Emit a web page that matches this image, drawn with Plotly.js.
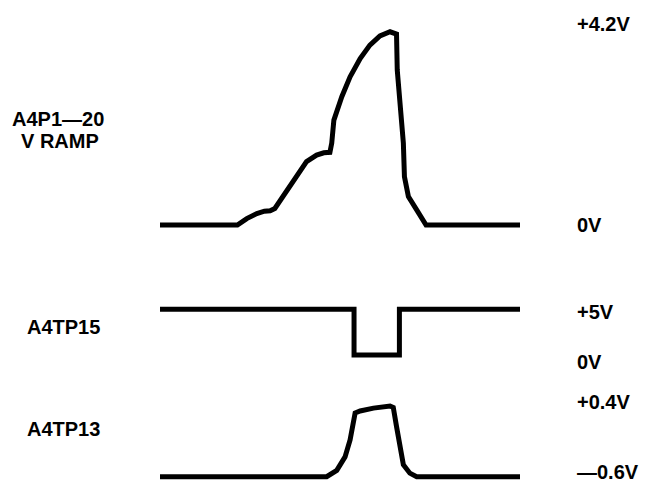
<!DOCTYPE html>
<html>
<head>
<meta charset="utf-8">
<script src="https://cdn.plot.ly/plotly-3.0.1.min.js"></script>
<style>html,body{margin:0;padding:0;background:#fff;}#chart{width:645px;height:485px;}</style>
</head>
<body>
<div id="chart"></div>
<script>
// Time in arbitrary units (0..100) across the sweep
const rampT = [0, 21.5, 24.1, 26.9, 29.0, 30.6, 31.9, 35.2, 38.0, 40.7, 43.5, 45.5, 47.2, 47.7, 48.3, 50.5, 52.8, 55.6, 58.3, 61.1, 63.9, 65.7, 65.9, 66.9, 67.6, 67.9, 69.0, 71.3, 73.9, 100];
const rampV = [0, 0, 0.14, 0.25, 0.30, 0.31, 0.36, 0.76, 1.09, 1.38, 1.52, 1.57, 1.58, 1.78, 2.28, 2.79, 3.22, 3.62, 3.91, 4.11, 4.20, 4.15, 3.37, 2.57, 1.78, 1.05, 0.62, 0.33, 0, 0];

const tp15T = [0, 53.9, 53.9, 66.5, 66.5, 100];
const tp15V = [5, 5, 0, 0, 5, 5];

const tp13T = [0, 46.3, 49.1, 51.4, 52.8, 53.7, 54.2, 55.6, 59.3, 63.9, 64.8, 65.7, 66.7, 67.6, 69.4, 71.3, 100];
const tp13V = [-0.6, -0.6, -0.51, -0.32, -0.08, 0.15, 0.30, 0.33, 0.37, 0.40, 0.38, 0.11, -0.22, -0.43, -0.55, -0.6, -0.6];

const leftLabels = ["A4P1—20", "V RAMP", "A4TP15", "A4TP13"];
const rightLabels = ["+4.2V", "0V", "+5V", "0V", "+0.4V", "—0.6V"];

const W = 645, H = 485;
const py = p => 1 - p / H;
const px = p => p / W;

const lineStyle = {color: '#000', width: 5, shape: 'linear'};
const traces = [
  {x: rampT, y: rampV, xaxis: 'x', yaxis: 'y', mode: 'lines', line: lineStyle, hoverinfo: 'skip'},
  {x: tp15T, y: tp15V, xaxis: 'x', yaxis: 'y2', mode: 'lines', line: lineStyle, hoverinfo: 'skip'},
  {x: tp13T, y: tp13V, xaxis: 'x', yaxis: 'y3', mode: 'lines', line: lineStyle, hoverinfo: 'skip'}
];

const hidden = {visible: false, showgrid: false, zeroline: false, fixedrange: true};
const font = {family: 'Liberation Sans, Arial, sans-serif', size: 20, color: '#000', weight: 'bold'};

const leftPos = [[58, 119], [60, 141], [63, 327], [63, 429]];
const rightPos = [24, 225, 312, 362, 402, 472];

const annotations = [];
leftLabels.forEach((t, i) => annotations.push({
  text: '<b>' + t + '</b>', xref: 'paper', yref: 'paper', x: px(leftPos[i][0]), y: py(leftPos[i][1]),
  xanchor: 'center', yanchor: 'middle', showarrow: false, font: font
}));
rightLabels.forEach((t, i) => annotations.push({
  text: '<b>' + t + '</b>', xref: 'paper', yref: 'paper', x: px(575), y: py(rightPos[i]),
  xanchor: 'left', yanchor: 'middle', showarrow: false, font: font
}));

const layout = {
  width: W, height: H,
  margin: {l: 0, r: 0, t: 0, b: 0, pad: 0},
  paper_bgcolor: '#fff', plot_bgcolor: 'rgba(0,0,0,0)',
  showlegend: false,
  xaxis: Object.assign({}, hidden, {domain: [px(152.8), px(527.2)], range: [-2, 102]}),
  yaxis: Object.assign({}, hidden, {domain: [py(250), py(15)], range: [-0.543, 4.565]}),
  yaxis2: Object.assign({}, hidden, {domain: [py(380), py(290)], range: [-2.735, 7.111], anchor: 'x'}),
  yaxis3: Object.assign({}, hidden, {domain: [0, py(395)], range: [-0.7174, 0.5556], anchor: 'x'}),
  annotations: annotations
};

Plotly.newPlot('chart', traces, layout, {staticPlot: true, displayModeBar: false});
</script>
</body>
</html>
